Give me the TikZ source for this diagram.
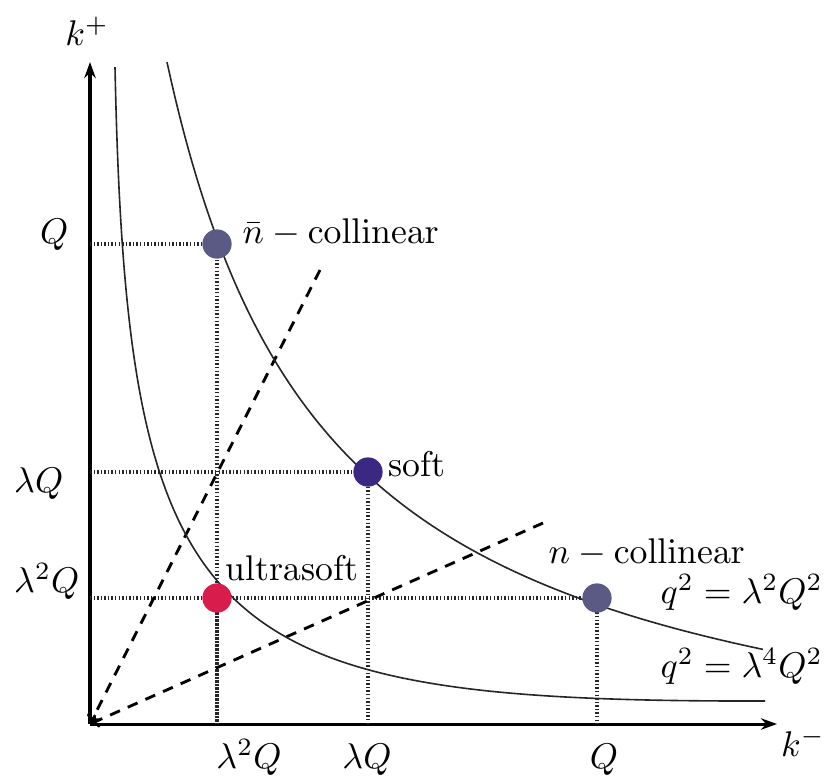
\documentclass[tikz,border=0pt]{standalone}
\usetikzlibrary{arrows.meta}
\definecolor{collcol}{RGB}{90,90,132}
\definecolor{softcol}{RGB}{58,40,130}
\definecolor{uscol}{RGB}{216,28,75}
\begin{document}
\begin{tikzpicture}[x=0.28pt,y=-0.28pt,
  axis/.style={line width=0.85pt,-{Stealth[length=4.5pt,width=3.2pt]}},
  curve/.style={line width=0.45pt, draw=black!85},
  guide/.style={line width=0.9pt, dash pattern=on 0.4pt off 0.6pt, draw=black!85},
  diag/.style={line width=0.8pt, dash pattern=on 3pt off 2.4pt, -{To[length=2.5pt,width=4pt]}},
  blob/.style={circle, inner sep=0pt, minimum size=8.2pt},
  lbl/.style={inner sep=0pt}]
\useasboundingbox (0,0) rectangle (832,778);
% axes
\coordinate (O) at (90,724);
\coordinate (Ytip) at (90,62);
\coordinate (Xtip) at (777,724);
\draw[axis] (O) -- (Ytip);
\draw[axis] (O) -- (Xtip);
% dot positions
\coordinate (pnbar) at (217,244);
\coordinate (psoft) at (368,472);
\coordinate (pus) at (217,598);
\coordinate (pn) at (597,598);
% guides
\draw[guide] (O |- pnbar) -- (pnbar) -- (pnbar |- O);
\draw[guide] (O |- psoft) -- (psoft) -- (psoft |- O);
\draw[guide] (O |- pus) -- (pn) -- (pn |- O);
\draw[guide] (pus) -- (pus |- O);
% dashed diagonals
\coordinate (d1) at (320,270);
\coordinate (d2) at (543,523);
\draw[diag] (d1) -- (O);
\draw[diag] (d2) -- (O);
% curves
\draw[curve] plot[domain=77:673, samples=120, smooth] ({90+\x}, {809-10*(12100/(\x+85))});
\draw[curve] (115,67) .. controls (127,640) and (205,702) .. (765,701);
% dots
\node[blob, fill=collcol] (nbar) at (pnbar) {};
\node[blob, fill=softcol] (soft) at (psoft) {};
\node[blob, fill=uscol] (us) at (pus) {};
\node[blob, fill=collcol] (n) at (pn) {};
% labels
\node[lbl] (kp) at (87,31) {$k^+$};
\node[lbl] (km) at (803,742) {$k^-$};
\node[lbl, anchor=base east] (yQ) at (69,243) {$Q$};
\node[lbl, anchor=base east] (ylQ) at (64,492) {$\lambda Q$};
\node[lbl, anchor=base east] (yllQ) at (80,592) {$\lambda^2 Q$};
\node[lbl, anchor=base] (xllQ) at (249,768) {$\lambda^2 Q$};
\node[lbl, anchor=base] (xlQ) at (367,768) {$\lambda Q$};
\node[lbl, anchor=base] (xQ) at (604,768) {$Q$};
\node[lbl, anchor=base west] (lnbar) at (242,243) {$\bar{n}-\mathrm{collinear}$};
\node[lbl, anchor=base west] (lsoft) at (388,476) {soft};
\node[lbl, anchor=base west] (lus) at (225,580) {ultrasoft};
\node[lbl, anchor=base west] (ln) at (548,563) {$n-\mathrm{collinear}$};
\node[lbl, anchor=base west] (lq1) at (660,603) {$q^2=\lambda^2Q^2$};
\node[lbl, anchor=base west] (lq2) at (660,677) {$q^2=\lambda^4Q^2$};
\end{tikzpicture}
\end{document}
